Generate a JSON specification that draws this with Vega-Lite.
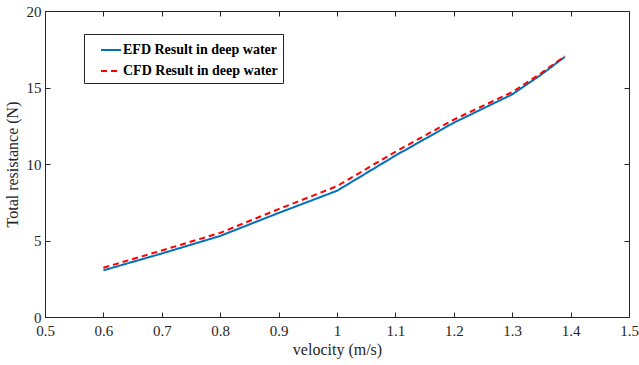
{
  "$schema": "https://vega.github.io/schema/vega-lite/v6.json",
  "autosize": "none",
  "width": 584,
  "height": 306,
  "padding": {"left": 45, "top": 11, "right": 10, "bottom": 48},
  "background": "white",
  "config": {
    "font": "Liberation Serif",
    "view": {"stroke": "#262626", "strokeWidth": 1},
    "axis": {
      "domain": false,
      "grid": false,
      "tickSize": -5,
      "tickColor": "#262626",
      "labelColor": "#262626",
      "labelFont": "Liberation Serif",
      "labelFontSize": 15,
      "titleFont": "Liberation Serif",
      "titleFontSize": 16,
      "titleFontWeight": "normal",
      "titleColor": "#262626"
    }
  },
  "data": {
    "values": [
      {"v": 0.6, "r": 3.05, "s": "EFD Result in deep water"},
      {"v": 0.7, "r": 4.15, "s": "EFD Result in deep water"},
      {"v": 0.8, "r": 5.3, "s": "EFD Result in deep water"},
      {"v": 0.9, "r": 6.8, "s": "EFD Result in deep water"},
      {"v": 1.0, "r": 8.25, "s": "EFD Result in deep water"},
      {"v": 1.1, "r": 10.55, "s": "EFD Result in deep water"},
      {"v": 1.2, "r": 12.7, "s": "EFD Result in deep water"},
      {"v": 1.3, "r": 14.55, "s": "EFD Result in deep water"},
      {"v": 1.35, "r": 15.85, "s": "EFD Result in deep water"},
      {"v": 1.39, "r": 17.0, "s": "EFD Result in deep water"},
      {"v": 0.6, "r": 3.22, "s": "CFD Result in deep water"},
      {"v": 0.7, "r": 4.35, "s": "CFD Result in deep water"},
      {"v": 0.8, "r": 5.5, "s": "CFD Result in deep water"},
      {"v": 0.9, "r": 7.05, "s": "CFD Result in deep water"},
      {"v": 1.0, "r": 8.55, "s": "CFD Result in deep water"},
      {"v": 1.1, "r": 10.8, "s": "CFD Result in deep water"},
      {"v": 1.2, "r": 12.9, "s": "CFD Result in deep water"},
      {"v": 1.3, "r": 14.7, "s": "CFD Result in deep water"},
      {"v": 1.35, "r": 15.95, "s": "CFD Result in deep water"},
      {"v": 1.39, "r": 17.05, "s": "CFD Result in deep water"}
    ]
  },
  "layer": [
    {
      "mark": {"type": "line", "strokeWidth": 2},
      "encoding": {
        "x": {
          "field": "v", "type": "quantitative",
          "scale": {"domain": [0.5, 1.5], "nice": false, "zero": false},
          "axis": {"title": "velocity (m/s)", "values": [0.5,0.6,0.7,0.8,0.9,1,1.1,1.2,1.3,1.4,1.5], "format": ".1~f", "labelPadding": 11, "titlePadding": 3, "labelFlush": false}
        },
        "y": {
          "field": "r", "type": "quantitative",
          "scale": {"domain": [0, 20], "nice": false},
          "axis": {"title": "Total resistance (N)", "values": [0,5,10,15,20], "labelPadding": 9, "titlePadding": 6}
        },
        "color": {
          "field": "s", "type": "nominal",
          "scale": {"domain": ["EFD Result in deep water", "CFD Result in deep water"], "range": ["#0072BD", "#FF0000"]},
          "legend": {
            "title": null,
            "orient": "none",
            "legendX": 39,
            "legendY": 23,
            "direction": "vertical",
            "symbolType": "stroke",
            "symbolSize": 400,
            "symbolStrokeWidth": 2,
            "symbolOffset": 11,
            "labelFont": "Liberation Serif",
            "labelFontSize": 14,
            "labelFontWeight": "bold",
            "labelColor": "#000000",
            "strokeColor": "#262626",
            "fillColor": "white",
            "padding": 5,
            "rowPadding": 3,
            "labelOffset": 1
          }
        },
        "strokeDash": {
          "field": "s", "type": "nominal",
          "scale": {"domain": ["EFD Result in deep water", "CFD Result in deep water"], "range": [[1, 0], [6, 4]]},
          "legend": null
        }
      }
    },
    {
      "mark": {"type": "line", "opacity": 0},
      "encoding": {
        "x": {
          "field": "v", "type": "quantitative",
          "scale": {"domain": [0.5, 1.5], "nice": false, "zero": false},
          "axis": {"orient": "top", "title": null, "labels": false, "values": [0.5,0.6,0.7,0.8,0.9,1,1.1,1.2,1.3,1.4,1.5]}
        },
        "y": {
          "field": "r", "type": "quantitative",
          "scale": {"domain": [0, 20], "nice": false},
          "axis": {"orient": "right", "title": null, "labels": false, "values": [0,5,10,15,20]}
        }
      }
    }
  ],
  "resolve": {"axis": {"x": "independent", "y": "independent"}}
}
